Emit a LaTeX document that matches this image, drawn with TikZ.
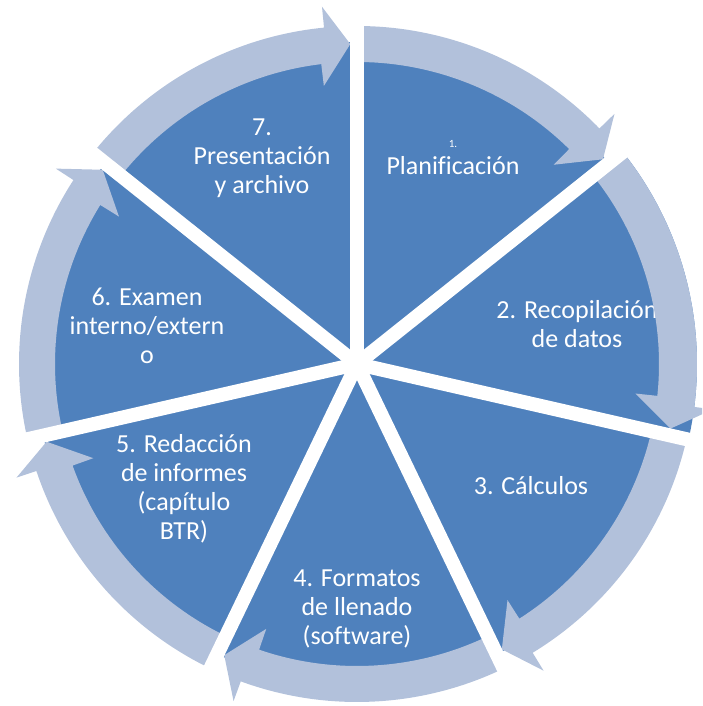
\documentclass[tikz,border=0pt]{standalone}
\usepackage{fontspec}
\setmainfont{Carlito}[Ligatures=NoCommon]
\definecolor{segblue}{RGB}{79,129,189}
\definecolor{bandblue}{RGB}{178,193,219}
\begin{document}
\begin{tikzpicture}[x=1pt,y=1pt,
  seg/.style={fill=segblue},
  band/.style={fill=bandblue},
  gapline/.style={draw=white,line width=14pt},
  lbl/.style={text=white,font=\fontsize{26}{29}\selectfont,align=center,anchor=base,inner sep=0pt},
  smalllbl/.style={text=white,font=\fontsize{11}{13}\selectfont,anchor=base,inner sep=0pt}]
\useasboundingbox (0,0) rectangle (702,706);
\clip (0,0) rectangle (702,706);
\begin{scope}[shift={(357,342)}]
  % pie segments
  \foreach \i in {1,...,7}{
    \pgfmathsetmacro{\as}{90-(\i-1)*360/7}
    \pgfmathsetmacro{\ae}{90-\i*360/7}
    \pgfmathsetmacro{\R}{\i==2 ? 340 : 322}
    \fill[seg] (0,0) -- (\as:\R) arc[start angle=\as, end angle=\ae, radius=\R] -- cycle;
  }
\end{scope}
% labels (anchor = baseline of the last line)
\node[smalllbl] (t1num) at (453,558) {1.};
\node[lbl] (t1) at (453,531) {Planificación};
\node[lbl] (t2) at (577,358) {2. Recopilación\\de datos};
\node[lbl] (t3) at (531,211) {3. Cálculos};
\node[lbl] (t4) at (357,61) {4. Formatos\\de llenado\\(software)};
\node[lbl] (t5) at (184,166) {5. Redacción\\de informes\\(capítulo\\BTR)};
\node[lbl] (t6) at (147,342) {6. Examen\\interno/extern\\o};
\node[lbl] (t7) at (262,512) {7.\\Presentación\\y archivo};
\begin{scope}[shift={(357,342)}]
  % circular arrows
  \foreach \i in {1,...,7}{
    \pgfmathsetmacro{\ts}{90-(\i-1)*360/7+1}
    \pgfmathsetmacro{\te}{90-\i*360/7}
    \pgfmathsetmacro{\tip}{\te+1.2}
    \pgfmathsetmacro{\bo}{\te+5.6}
    \pgfmathsetmacro{\bi}{\te+6.8}
    \pgfmathsetmacro{\ro}{\i==2 ? 340 : 338}
    \fill[band] (\ts:\ro) arc[start angle=\ts, end angle=\bo, radius=\ro]
      -- (\bo:359) -- (\tip:320) -- (\bi:280) -- (\bi:302)
      arc[start angle=\bi, end angle=\ts, radius=302] -- cycle;
  }
  % white gaps
  \foreach \k in {0,...,6}{
    \draw[gapline] (0,0) -- ({90-\k*360/7}:352);
  }
\end{scope}
\end{tikzpicture}
\end{document}
